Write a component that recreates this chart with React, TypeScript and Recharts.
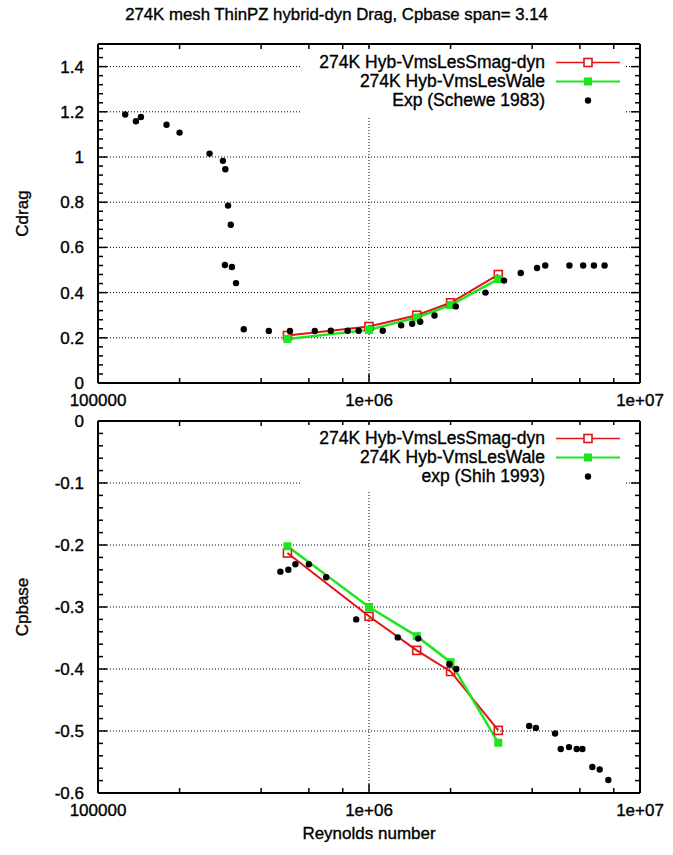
import React from "react";
import { ComposedChart, Line, Scatter, XAxis, YAxis, ReferenceLine } from "recharts";

const FONT = "'Liberation Sans', Arial, sans-serif";
const RED = "#e01414";
const GREEN = "#1ee61e";
const INK = "#000";
const FS = 17;

// Reynolds axis (log)
const reDomain: [number, number] = [1e5, 1e7];
const reMajor = [1e5, 1e6, 1e7];
const reLabels = ["100000", "1e+06", "1e+07"];
const reMinor = [2e5, 4e5, 6e5, 8e5, 2e6, 4e6, 6e6, 8e6];

// simulations
const simRe = [5e5, 1e6, 1.5e6, 2e6, 3e6];
const dragSmag = [0.21, 0.25, 0.3, 0.355, 0.48];
const dragWale = [0.195, 0.235, 0.29, 0.345, 0.46];
const cpSmag = [-0.213, -0.315, -0.37, -0.404, -0.499];
const cpWale = [-0.202, -0.3, -0.347, -0.389, -0.519];

// Schewe 1983
const scheweRe = [
  1.26e5, 1.38e5, 1.44e5, 1.79e5, 2.0e5, 2.58e5, 2.89e5, 2.95e5, 3.02e5, 3.09e5,
  2.94e5, 3.12e5, 3.23e5, 3.45e5, 4.27e5, 5.11e5, 6.31e5, 7.23e5, 8.34e5, 9.16e5,
  1.124e6, 1.314e6, 1.443e6, 1.545e6, 1.745e6, 2.09e6, 2.69e6, 3.15e6, 3.63e6,
  4.17e6, 4.47e6, 5.49e6, 6.17e6, 6.76e6, 7.4e6,
];
const scheweCd = [
  1.188, 1.158, 1.177, 1.143, 1.108, 1.015, 0.983, 0.946, 0.785, 0.7,
  0.522, 0.513, 0.442, 0.238, 0.23, 0.23, 0.23, 0.231, 0.231, 0.231,
  0.231, 0.255, 0.262, 0.271, 0.299, 0.339, 0.4, 0.453, 0.487,
  0.509, 0.52, 0.52, 0.52, 0.52, 0.52,
];

// Shih 1993
const shihRe = [
  4.71e5, 5.04e5, 5.35e5, 6.0e5, 6.95e5, 8.97e5, 1.277e6, 1.52e6, 1.98e6, 2.1e6,
  3.9e6, 4.13e6, 4.86e6, 5.1e6, 5.47e6, 5.84e6, 6.13e6, 6.67e6, 7.1e6, 7.64e6,
];
const shihCp = [
  -0.243, -0.24, -0.231, -0.231, -0.252, -0.32, -0.349, -0.351, -0.392, -0.4,
  -0.492, -0.495, -0.504, -0.529, -0.526, -0.529, -0.529, -0.558, -0.562, -0.579,
];

const dragTicks = [0, 0.2, 0.4, 0.6, 0.8, 1, 1.2, 1.4];
const cpTicks = [-0.6, -0.5, -0.4, -0.3, -0.2, -0.1, 0];

const dragNames = ["274K Hyb-VmsLesSmag-dyn", "274K Hyb-VmsLesWale", "Exp (Schewe 1983)"];
const cpNames = ["274K Hyb-VmsLesSmag-dyn", "274K Hyb-VmsLesWale", "exp (Shih 1993)"];

const zip = (xs: number[], ys: number[]) => xs.map((re, i) => ({ re, v: ys[i] }));

// minor tick positions between the labelled ones
const withMinor = (major: number[], lo: number, hi: number, step: number) => {
  const out = [...major];
  const n = Math.round((hi - lo) / step);
  for (let i = 0; i <= n; i++) {
    const v = +(lo + i * step).toFixed(4);
    if (!major.some((m) => Math.abs(m - v) < 1e-6)) out.push(v);
  }
  return out;
};

const PLOT_W = 542;
const X_GAP = 11;
const Y_GAP = 14;
const txt = { fill: INK, fontSize: FS, fontFamily: FONT, stroke: INK, strokeWidth: 0.35 };
const tl = { stroke: INK, strokeWidth: 1.5 };

const xTick = (plotH: number) => (p: any) => {
  const v = p.payload.value;
  const i = reMajor.indexOf(v);
  const len = i >= 0 ? 9 : 5;
  const base = p.y - X_GAP;
  const top = base - plotH;
  return (
    <g>
      <line x1={p.x} x2={p.x} y1={base} y2={base - len} {...tl} />
      <line x1={p.x} x2={p.x} y1={top} y2={top + len} {...tl} />
      {i >= 0 && (
        <text x={p.x} y={p.y} dy="0.71em" textAnchor="middle" {...txt}>
          {reLabels[i]}
        </text>
      )}
    </g>
  );
};

const yTick = (major: number[]) => (p: any) => {
  const v = p.payload.value;
  const isMajor = major.some((m) => Math.abs(m - v) < 1e-6);
  const len = isMajor ? 9 : 5;
  const left = p.x + Y_GAP;
  const right = left + PLOT_W;
  return (
    <g>
      <line x1={left} x2={left + len} y1={p.y} y2={p.y} {...tl} />
      <line x1={right} x2={right - len} y1={p.y} y2={p.y} {...tl} />
      {isMajor && (
        <text x={p.x} y={p.y} dy="0.355em" textAnchor="end" {...txt}>
          {String(v)}
        </text>
      )}
    </g>
  );
};

const openSquare = (p: any) => (
  <rect key={p.index} x={p.cx - 4} y={p.cy - 4} width={8} height={8} fill="none" stroke={RED} strokeWidth={1.6} />
);
const fullSquare = (p: any) => (
  <rect key={p.index} x={p.cx - 4} y={p.cy - 4} width={8} height={8} fill={GREEN} />
);
const expDot = (p: any) => <circle cx={p.cx} cy={p.cy} r={3.2} fill={INK} />;

const yTitle = (text: string) => (p: any) => {
  const vb = p.viewBox || {};
  const cy = vb.y + vb.height / 2;
  return (
    <text x={22} y={cy} transform={`rotate(-90 22 ${cy})`} textAnchor="middle" dominantBaseline="central" {...txt}>
      {text}
    </text>
  );
};

const xTitle = (p: any) => {
  const vb = p.viewBox || {};
  return (
    <text x={vb.x + vb.width / 2} y={vb.y + 40} textAnchor="middle" dominantBaseline="central" {...txt}>
      Reynolds number
    </text>
  );
};

function Key({ names, top }: { names: string[]; top: number }) {
  return (
    <div
      style={{
        position: "absolute",
        left: 300,
        top,
        width: 326,
        background: "#fff",
        padding: "4px 0 6px",
        fontFamily: FONT,
        fontSize: 17.5,
        color: INK,
        WebkitTextStroke: "0.35px #000",
      }}
    >
      {names.map((n, i) => (
        <div key={n} style={{ display: "flex", alignItems: "center", height: 19 }}>
          <span style={{ width: 245, textAlign: "right", whiteSpace: "nowrap" }}>{n}</span>
          <svg width={81} height={19}>
            {i === 0 && (
              <g>
                <line x1={11} x2={75} y1={9.5} y2={9.5} stroke={RED} strokeWidth={1.6} />
                <rect x={39} y={5.5} width={8} height={8} fill="#fff" stroke={RED} strokeWidth={1.6} />
              </g>
            )}
            {i === 1 && (
              <g>
                <line x1={11} x2={75} y1={9.5} y2={9.5} stroke={GREEN} strokeWidth={1.8} />
                <rect x={39} y={5.5} width={8} height={8} fill={GREEN} />
              </g>
            )}
            {i === 2 && <circle cx={43} cy={9.5} r={3.2} fill={INK} />}
          </svg>
        </div>
      ))}
    </div>
  );
}

type PanelProps = {
  height: number;
  marginTop: number;
  xAxisHeight: number;
  yDomain: [number, number];
  yTicks: number[];
  yAll: number[];
  yName: string;
  smag: number[];
  wale: number[];
  expRe: number[];
  exp: number[];
  withXTitle: boolean;
};

function Panel(props: PanelProps) {
  const { height, marginTop, xAxisHeight, yDomain, yTicks, yAll, yName, smag, wale, expRe, exp, withXTitle } = props;
  const plotH = height - marginTop - xAxisHeight;
  const grid = yTicks.filter((v) => v !== yDomain[0] && v !== yDomain[1]);
  const frame = { stroke: INK, strokeWidth: 2 };
  const dotted = { stroke: INK, strokeWidth: 1, strokeDasharray: "1 2" };
  return (
    <ComposedChart width={673} height={height} margin={{ top: marginTop, right: 33, bottom: 0, left: 0 }}>
      <XAxis
        xAxisId="x"
        dataKey="re"
        type="number"
        scale="log"
        domain={reDomain}
        allowDataOverflow
        ticks={[...reMajor, ...reMinor]}
        interval={0}
        tickLine={false}
        tickSize={0}
        tickMargin={X_GAP}
        height={xAxisHeight}
        axisLine={frame}
        tick={xTick(plotH)}
        label={withXTitle ? xTitle : undefined}
      />
      <YAxis
        yAxisId="y"
        dataKey="v"
        type="number"
        domain={yDomain}
        allowDataOverflow
        ticks={yAll}
        interval={0}
        tickLine={false}
        tickSize={0}
        tickMargin={Y_GAP}
        width={98}
        axisLine={frame}
        tick={yTick(yTicks)}
        label={yTitle(yName)}
      />
      {grid.map((v) => (
        <ReferenceLine key={`g${v}`} xAxisId="x" yAxisId="y" y={v} {...dotted} />
      ))}
      <ReferenceLine xAxisId="x" yAxisId="y" x={1e6} {...dotted} />
      <ReferenceLine xAxisId="x" yAxisId="y" y={yDomain[1]} {...frame} />
      <ReferenceLine xAxisId="x" yAxisId="y" x={reDomain[1]} {...frame} />
      <Line
        xAxisId="x"
        yAxisId="y"
        data={zip(simRe, smag)}
        dataKey="v"
        stroke={RED}
        strokeWidth={2}
        dot={openSquare}
        activeDot={false}
        isAnimationActive={false}
      />
      <Line
        xAxisId="x"
        yAxisId="y"
        data={zip(simRe, wale)}
        dataKey="v"
        stroke={GREEN}
        strokeWidth={2.5}
        dot={fullSquare}
        activeDot={false}
        isAnimationActive={false}
      />
      <Scatter xAxisId="x" yAxisId="y" data={zip(expRe, exp)} dataKey="v" fill={INK} shape={expDot} isAnimationActive={false} />
    </ComposedChart>
  );
}

export default function App() {
  return (
    <div style={{ position: "absolute", left: 0, top: 0, width: 673, height: 855, background: "#fff", fontFamily: FONT }}>
      <div
        style={{
          position: "absolute",
          left: 0,
          top: 5,
          width: 673,
          textAlign: "center",
          fontSize: 16.8,
          lineHeight: "20px",
          color: INK,
          WebkitTextStroke: "0.35px #000",
        }}
      >
        274K mesh ThinPZ hybrid-dyn Drag, Cpbase span= 3.14
      </div>
      <div style={{ position: "absolute", left: 0, top: 0 }}>
        <Panel
          height={410}
          marginTop={44}
          xAxisHeight={27}
          yDomain={[0, 1.5]}
          yTicks={dragTicks}
          yAll={withMinor(dragTicks, 0, 1.48, 0.04)}
          yName="Cdrag"
          smag={dragSmag}
          wale={dragWale}
          expRe={scheweRe}
          exp={scheweCd}
          withXTitle={false}
        />
      </div>
      <div style={{ position: "absolute", left: 0, top: 410 }}>
        <Panel
          height={445}
          marginTop={11}
          xAxisHeight={62}
          yDomain={[-0.6, 0]}
          yTicks={cpTicks}
          yAll={withMinor(cpTicks, -0.6, 0, 0.02)}
          yName="Cpbase"
          smag={cpSmag}
          wale={cpWale}
          expRe={shihRe}
          exp={shihCp}
          withXTitle
        />
      </div>
      <Key names={dragNames} top={49} />
      <Key names={cpNames} top={425} />
    </div>
  );
}
